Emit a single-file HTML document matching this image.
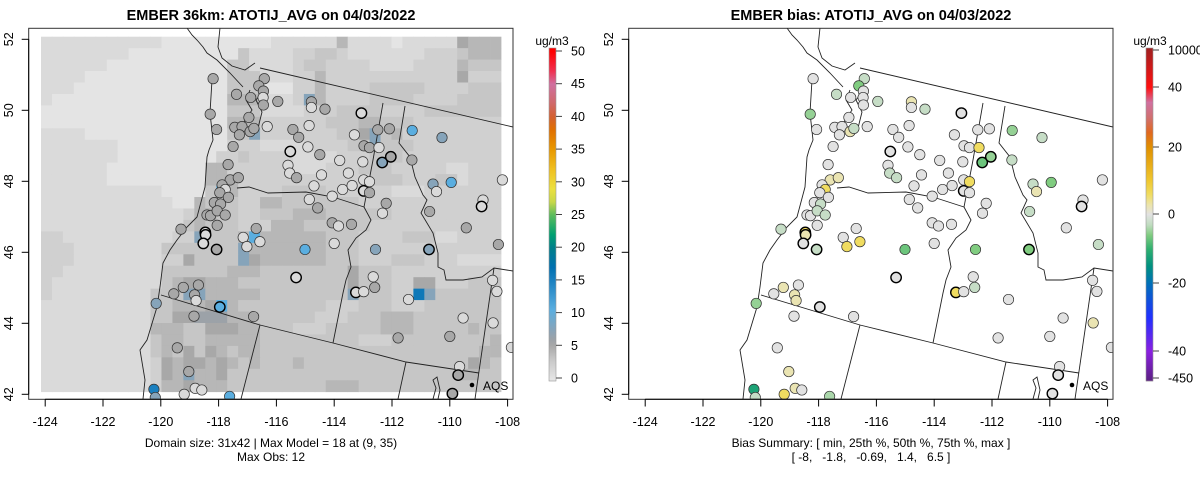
<!DOCTYPE html>
<html><head><meta charset="utf-8">
<style>
html,body{margin:0;padding:0;background:#fff;}
svg{display:block;font-family:"Liberation Sans",sans-serif;}
text{white-space:pre;}
</style></head>
<body>
<svg id="chart" width="1200" height="479" viewBox="0 0 1200 479" xmlns="http://www.w3.org/2000/svg">
<defs>
<clipPath id="clipL"><rect x="28.7" y="28.3" width="484.3" height="371"/></clipPath>
<clipPath id="clipR"><rect x="628.7" y="28.3" width="484.3" height="371"/></clipPath>
</defs>
<g id="left"></g>
<g id="right"></g>
</svg>
<script>
// ---- data ----
var xTicks = [-124,-122,-120,-118,-116,-114,-112,-110,-108];
var yTicks = [42,44,46,48,50,52];
var concTicks = [0,5,10,15,20,25,30,35,40,45,50];
var biasTickLabels = ["-450","-40","-20","0","20","40","10000"];
var biasTickValues = [-450,-40,-20,0,20,40,10000];
// model raster (31 rows x 42 cols), run-length "count:level"
var rasterRuns = [
"11:1 10:0 6:1 1:4 4:1 1:0 5:1 1:5 3:4",
"8:1 10:0 1:3 4:1 2:2 2:3 1:2 6:1 1:1 3:2 1:3 3:4",
"6:1 11:0 2:3 4:1 1:2 2:3 4:2 4:1 4:2 1:4 3:3",
"4:1 13:0 3:3 3:1 2:2 1:4 3:2 5:2 4:2 1:5 3:2",
"3:1 14:0 3:3 3:0 2:2 1:4 4:2 5:3 4:2 3:3",
"1:1 16:0 3:4 3:1 1:2 1:7 1:4 4:2 4:3 4:2 4:3",
"17:0 3:3 4:1 3:2 4:3 4:2 3:3 4:3",
"17:0 3:4 3:2 3:2 3:3 1:4 1:4 3:3 4:2 4:2",
"4:1 13:0 2:3 1:7 3:2 4:2 2:3 1:5 1:7 1:3 1:4 4:2 5:2",
"7:1 10:0 3:2 4:1 4:2 2:3 1:7 3:3 4:2 4:2",
"7:1 9:0 2:2 1:3 4:2 4:1 3:2 3:3 3:2 3:2 3:2",
"6:1 9:0 2:4 1:2 1:2 4:2 3:1 3:2 3:3 3:2 2:2 2:1 3:2",
"6:1 9:0 3:4 4:2 4:2 4:2 3:3 3:2 2:3 1:1 3:2",
"11:1 4:0 1:3 1:8 1:4 4:2 4:3 3:2 3:2 3:1 3:2 4:2",
"12:1 2:0 1:4 3:3 2:2 2:4 4:3 3:3 3:2 3:2 3:2 4:2",
"13:1 1:2 1:4 1:5 2:3 2:2 3:3 3:4 3:3 3:3 3:2 3:2 4:2",
"13:1 1:3 1:4 1:3 2:3 3:2 3:4 3:3 3:3 4:2 4:2 4:2",
"2:2 10:1 2:2 1:7 1:3 2:3 1:4 1:8 3:4 3:4 3:3 4:2 3:3 2:1 4:2",
"3:2 8:1 3:3 1:3 3:3 1:7 1:4 3:4 3:4 3:3 3:2 3:2 3:2 4:2",
"3:2 8:1 2:2 1:5 4:3 1:7 1:5 3:4 3:4 3:3 3:2 3:3 3:2 4:1",
"2:2 9:1 3:3 3:3 1:4 2:4 3:3 3:3 2:3 1:5 3:3 3:2 3:2 4:2",
"1:2 10:1 1:3 1:4 2:5 3:4 2:3 3:3 3:3 2:3 1:5 3:3 2:2 1:5 1:5 3:2 3:3",
"1:2 9:1 3:3 2:7 3:4 2:4 3:3 3:3 2:3 1:7 3:3 2:2 1:9 1:7 3:3 3:3",
"10:1 2:3 1:4 1:4 1:4 1:5 1:8 1:4 2:3 3:3 3:3 3:2 3:3 3:2 3:3 4:3",
"10:1 2:3 2:5 1:6 2:6 2:4 3:3 3:3 3:2 3:3 3:4 3:3 3:3 2:3",
"10:1 3:4 2:3 3:5 2:4 3:3 3:2 3:3 2:3 3:4 2:3 3:3 1:4 2:3",
"10:1 1:3 1:4 1:4 2:3 3:4 2:4 3:3 3:3 3:3 3:2 3:3 3:3 3:3 1:4",
"10:1 1:3 1:4 1:3 1:5 1:3 1:5 1:4 1:3 2:4 3:3 3:3 3:3 3:3 3:3 3:3 2:3 1:4 1:4",
"10:1 1:2 1:5 1:4 1:5 1:5 1:4 1:5 1:4 1:3 1:4 3:3 1:4 3:3 3:3 3:3 3:3 3:3 1:5 1:4 1:3",
"10:1 1:2 1:5 1:4 1:7 1:4 1:4 1:5 1:3 1:3 1:3 3:3 3:3 3:3 3:3 3:3 3:3 2:4 2:3",
"10:1 1:2 2:4 1:5 3:4 1:3 5:3 3:3 3:4 3:3 3:3 3:3 4:3"
];
var rasterLevelValue = [0,1,2,3,4,5,6,7.5,10.5,16];
// monitor sites
var stationLon = [-118.19,-116.42,-116.61,-116.45,-117.38,-116.89,-116.46,-116.45,-115.95,-114.79,-114.79,-114.32,-113.06,-118.29,-116.95,-117.44,-117.19,-116.32,-116.91,-116.78,-117.28,-118.07,-115.43,-115.23,-114.87,-113.30,-112.49,-112.09,-111.30,-110.27,-117.50,-115.52,-114.91,-114.50,-113.81,-112.97,-112.78,-112.45,-112.34,-112.04,-111.31,-117.67,-115.60,-115.54,-115.30,-114.44,-113.51,-113.01,-117.60,-117.32,-117.88,-117.77,-117.96,-117.66,-114.70,-113.71,-113.38,-112.98,-112.98,-112.78,-112.78,-110.58,-110.46,-109.95,-108.18,-114.86,-114.07,-112.20,-114.57,-112.33,-110.70,-108.85,-108.90,-118.15,-117.93,-118.40,-118.28,-118.05,-117.77,-118.05,-119.30,-118.46,-118.45,-118.53,-118.07,-116.70,-117.15,-117.02,-116.57,-114.07,-113.85,-113.40,-114.00,-115.01,-112.57,-110.72,-109.43,-108.32,-115.32,-112.65,-112.60,-113.25,-112.98,-108.52,-108.37,-111.43,-108.50,-109.54,-110.00,-111.79,-107.87,-109.66,-109.71,-109.91,-119.22,-118.70,-119.55,-118.83,-118.78,-120.16,-117.96,-118.85,-116.79,-119.43,-119.03,-118.81,-118.58,-120.24,-119.19,-120.19,-117.62];
var stationLat = [50.89,50.89,50.69,50.54,50.45,50.36,50.36,50.15,50.25,50.24,50.08,50.03,49.92,49.89,49.80,49.52,49.54,49.54,49.40,49.49,49.31,49.46,49.46,49.24,49.57,49.31,49.45,49.48,49.43,49.23,48.98,48.84,48.97,48.75,48.59,49.00,48.95,48.95,48.53,48.69,48.60,48.47,48.45,48.23,48.10,48.18,48.23,48.55,48.04,48.10,47.90,47.77,47.68,47.55,47.87,47.77,47.88,48.04,47.73,47.68,47.99,47.92,47.71,47.97,48.04,47.49,47.58,47.38,47.25,47.10,47.15,47.47,47.29,47.40,47.36,47.05,47.03,47.17,47.05,46.76,46.65,46.56,46.49,46.25,46.08,46.67,46.42,46.16,46.30,46.83,46.74,46.79,46.25,46.08,46.08,46.08,46.69,46.22,45.29,45.31,45.01,44.87,44.89,45.21,44.90,44.67,44.01,44.15,43.63,43.59,43.32,42.78,42.54,42.02,45.01,45.08,44.83,44.80,44.64,44.56,44.46,44.20,44.19,43.31,42.64,42.17,42.12,42.14,42.00,41.91,41.94];
var obsValues = [5,5,5,5,5,5,1,5,5,5,1,5,1,5,5,5,5,1,5,5,5,5,5,5,1,1,5,5,10.5,7.5,5,1,1,5,1,5,5,1,7.5,5,5,5,1,1,5,1,1,1,5,5,5,1,5,5,1,1,1,1,1,5,1,7.5,1,10.5,1,1,1,5,5,1,5,1,1,5,5,5,5,5,5,5,5,1,1,1,5,5,1,1,1,5,1,5,1,10.5,7.5,7.5,5,5,1,1,5,1,1,1,1,1,1,1,5,5,1,1,5,5,5,5,5,5,1,7.5,10.5,5,5,5,5,1,1,15,1,7.5,10.5];
var biasValues = [0,-2.5,-6,0,-2.5,0,0,0,-2.5,2.5,0,-2.5,0,-5,0,0,0,0,2.5,-2.5,0,0,0,0,0,0,0,0,-5,-2.5,0,0,0,0,0,0,0,6,-7,-5,-2.5,0,0,-2.5,-2.5,0,0,0,2.5,2.5,0,6,0,0,0,0,0,0,0,0,6,-2.5,2.5,-6,0,0,0,0,0,0,-2.5,0,0,0,-2.5,0,0,-2.5,-2.5,0,-2.5,6,2.5,0,-2.5,0,0,6,6,0,0,0,0,-7,-6,-6,0,-2.5,0,0,-2.5,6,0,0,0,0,2.5,0,0,0,0,0,0,0,2.5,0,0,2.5,2.5,-5,0,0,0,0,2.5,2.5,0,-12,6,-2.5,-4];
var boldFlags = [0,0,0,0,0,0,0,0,0,0,0,0,1,0,0,0,0,0,0,0,0,0,0,0,0,0,0,0,0,0,0,1,0,0,0,0,0,0,1,1,0,0,0,0,0,0,0,0,0,0,0,0,0,0,0,0,0,0,1,0,0,0,0,0,0,0,0,0,0,0,0,0,1,0,0,0,0,0,0,0,0,1,1,1,1,0,0,0,0,0,0,0,0,0,0,1,0,0,1,0,0,1,0,0,0,0,0,0,0,0,0,0,1,1,0,0,0,0,0,0,1,0,0,0,0,0,0,0,0,0,0];

// ---- helpers ----
var NS = "http://www.w3.org/2000/svg";
function mk(tag, attrs, parent){var e=document.createElementNS(NS,tag);for(var k in attrs)e.setAttribute(k,attrs[k]);parent.appendChild(e);return e;}
function xScale(lon,off){return off+45.2+(lon+124)*28.9;}
function yScale(lat){return 39.3+(52-lat)*35.5;}
function hex(c){return [parseInt(c.substr(1,2),16),parseInt(c.substr(3,2),16),parseInt(c.substr(5,2),16)];}
function mix(c1,c2,t){var ca=hex(c1),cb=hex(c2);return "rgb("+Math.round(ca[0]+(cb[0]-ca[0])*t)+","+Math.round(ca[1]+(cb[1]-ca[1])*t)+","+Math.round(ca[2]+(cb[2]-ca[2])*t)+")";}
function interp(stops,v){
  if(v<=stops[0][0])return stops[0][1];
  for(var i=1;i<stops.length;i++){if(v<=stops[i][0]){var a=stops[i-1],b=stops[i];var t=(v-a[0])/(b[0]-a[0]);return mix(a[1],b[1],t);}}
  return stops[stops.length-1][1];}
var concStops=[[0,"#e4e4e4"],[1,"#dadada"],[2,"#d0d0d0"],[3,"#c6c6c6"],[4,"#b7b7b7"],[5,"#a8a8a8"],[6,"#9ca2a8"],[7.5,"#86a4ba"],[10.5,"#5aaee0"],[15,"#1a80c0"],[17,"#0070b0"],[20,"#007f8a"],[22,"#00a070"],[25,"#5cbc5c"],[27,"#c8d848"],[29,"#ece040"],[32,"#f0c020"],[35,"#e89800"],[38,"#e07000"],[40,"#d46030"],[42,"#d06868"],[45,"#d070a0"],[47,"#f03050"],[50,"#ff0000"]];
var biasStops=[[-450,"#5a2080"],[-40,"#8a20e0"],[-30,"#2030ff"],[-20,"#0070b8"],[-15,"#009080"],[-10,"#30b070"],[-6,"#80cc80"],[-3,"#c0dcc0"],[0,"#e2e2e2"],[3,"#ece4a8"],[6,"#f0dc60"],[10,"#f0c830"],[20,"#e09000"],[25,"#e06820"],[30,"#d07070"],[35,"#d070a0"],[40,"#ff1010"]];

var borders = [
 [[260,68],[513,127]],
 [[237,188],[249,187],[268,193],[306,192],[333,197],[364,207]],
 [[383,103],[373,160],[364,207],[371,220],[366,230],[356,238],[348,250],[351,267],[346,280],[343,293],[333,343]],
 [[161,295],[260,325],[333,343],[406,362],[479,373]],
 [[260,325],[241,399]],
 [[406,362],[398,399]],
 [[405,106],[399,143],[410,157],[415,177],[423,195],[427,200],[421,213],[433,233],[438,253],[438,267],[444,270],[446,280],[463,280],[482,277],[494,268],[513,271]],
 [[494,268],[475,399]],
 [[212,80],[210,113],[213,140],[209,150],[207,157],[205,187],[197,217],[187,227],[177,240],[170,250],[163,263],[160,287],[157,307],[147,340],[140,350],[145,380],[143,399]],
 [[187,28],[192,35],[197,40],[203,47],[207,53],[217,60],[230,73],[243,87]],
 [[220,28],[218,47],[222,58],[232,66],[245,70],[255,63]],
 [[250,90],[246,100],[252,110],[244,122],[250,133],[258,128],[262,112],[256,100],[262,92]],
 [[433,399],[436,388],[433,380],[437,377],[440,390],[438,399]]
];

function panel(g, off, isBias){
  var clip = isBias ? "url(#clipR)" : "url(#clipL)";
  var inner = mk("g",{"clip-path":clip},g);
  if(!isBias){
    var rg = mk("g",{},inner);
    
    
    var cw=460/42, ch=355/31;
    for(var r=0;r<rasterRuns.length;r++){
      var runs=rasterRuns[r].split(" "), c=0;
      for(var k=0;k<runs.length;k++){
        var p=runs[k].split(":"), n=+p[0], lv=+p[1];
        for(var j=0;j<n;j++){
          var rc=mk("rect",{x:(off+41+c*cw).toFixed(2),y:(36.7+r*ch).toFixed(2),width:(cw+0.4).toFixed(2),height:(ch+0.4).toFixed(2),fill:interp(concStops,rasterLevelValue[lv])},rg);
          
          
          c++;
        }
      }
    }
  }
  var bg = mk("g",{fill:"none",stroke:"#222","stroke-width":"0.9"},inner);
  
  
  borders.forEach(function(line){
    mk("polyline",{points:line.map(function(p){return (p[0]+off)+","+p[1];}).join(" ")},bg);
  });
  var sg = mk("g",{},inner);
  
  
  for(var i=0;i<stationLon.length;i++){
    var col = isBias ? interp(biasStops,biasValues[i]) : interp(concStops,obsValues[i]);
    var ci=mk("circle",{cx:xScale(stationLon[i],off).toFixed(1),cy:yScale(stationLat[i]).toFixed(1),r:5.2,fill:col,stroke:boldFlags[i]?"#000":"#333","stroke-width":boldFlags[i]?1.4:0.7},sg);
    
    
  }
  var ad=mk("circle",{cx:off+472,cy:385,r:2.3,fill:"#000"},g);
  
  
  var at=mk("text",{x:off+483,y:390,"font-size":"12",fill:"#000"},g);at.textContent="AQS";
  
  
  var fr=mk("rect",{x:off+28.7,y:28.3,width:484.3,height:371,fill:"none",stroke:"#333","stroke-width":"1"},g);
  
  
  var xa=mk("g",{},g);
  
  
  mk("line",{x1:xScale(xTicks[0],off),x2:xScale(xTicks[xTicks.length-1],off),y1:399.3,y2:399.3,stroke:"#000"},xa);
  xTicks.forEach(function(t){
    var x=xScale(t,off);
    mk("line",{x1:x,x2:x,y1:399.3,y2:406.5,stroke:"#000"},xa);
    var tx=mk("text",{x:x,y:426,"text-anchor":"middle","font-size":"12.5",fill:"#000"},xa);tx.textContent=String(t);
    
    
  });
  var ya=mk("g",{},g);
  
  
  mk("line",{x1:off+28.7,x2:off+28.7,y1:yScale(42),y2:yScale(52),stroke:"#000"},ya);
  yTicks.forEach(function(t){
    var y=yScale(t);
    mk("line",{x1:off+21.7,x2:off+28.7,y1:y,y2:y,stroke:"#000"},ya);
    var ty=mk("text",{x:off+13,y:y,"text-anchor":"middle","font-size":"12.5",fill:"#000",transform:"rotate(-90 "+(off+13)+" "+y+")"},ya);ty.textContent=String(t);
    
    
  });
}

function colorbarConc(g){
  var bx=549,bw=7,top=48,bot=381;
  var yv=function(v){return 378-(v/50)*327;};
  for(var y=top;y<bot;y+=1){
    var v=(378-y)/327*50; if(v<0)v=0;
    mk("rect",{x:bx,y:y,width:bw,height:1.2,fill:interp(concStops,v)},g);
  }
  mk("rect",{x:bx,y:top,width:bw,height:bot-top,fill:"none",stroke:"#999","stroke-width":"0.6"},g);
  concTicks.forEach(function(t){
    var y=yv(t);
    mk("line",{x1:bx+bw,x2:bx+bw+6,y1:y,y2:y,stroke:"#444"},g);
    var tt=mk("text",{x:571,y:y+4.5,"font-size":"12.5",fill:"#000"},g);tt.textContent=String(t);
    
    
  });
  var u=mk("text",{x:552,y:45,"text-anchor":"middle","font-size":"12",fill:"#000"},g);u.textContent="ug/m3";
  
  
}
function colorbarBias(g){
  var bx=1146,bw=7,top=48,bot=381;
  var ys=[378,351,283,214,147,87,50];
  for(var y=top;y<bot;y+=1){
    var col;
    if(y<=87){col=mix("#a02020","#ff1010",(y-top)/(87-top));}
    else if(y>=351){col=mix("#8a20e0","#5a2080",(y-351)/(bot-351));}
    else{
      var v=0;
      for(var i=1;i<ys.length;i++){if(y>=ys[i]){var t=(ys[i-1]-y)/(ys[i-1]-ys[i]);v=biasTickValues[i-1]+(biasTickValues[i]-biasTickValues[i-1])*t;break;}}
      col=interp(biasStops,v);
    }
    mk("rect",{x:bx,y:y,width:bw,height:1.2,fill:col},g);
  }
  mk("rect",{x:bx,y:top,width:bw,height:bot-top,fill:"none",stroke:"#999","stroke-width":"0.6"},g);
  biasTickLabels.forEach(function(lbl,i){
    var y=ys[i];
    mk("line",{x1:bx+bw,x2:bx+bw+6,y1:y,y2:y,stroke:"#444"},g);
    var tt=mk("text",{x:1168,y:y+4.5,"font-size":"12.5",fill:"#000"},g);tt.textContent=lbl;
    
    
  });
  var u=mk("text",{x:1150,y:45,"text-anchor":"middle","font-size":"12",fill:"#000"},g);u.textContent="ug/m3";
  
  
}
function txt(g,x,y,s,size,bold,name){
  var t=mk("text",{x:x,y:y,"text-anchor":"middle","font-size":size,"font-weight":bold?"bold":"normal",fill:"#000"},g);
  t.textContent=s;
  
  
}

var L=document.getElementById("left"), R=document.getElementById("right");
panel(L,0,false);
panel(R,600,true);
var cbl=mk("g",{},L);


colorbarConc(cbl);
var cbr=mk("g",{},R);


colorbarBias(cbr);
txt(L,271,20,"EMBER 36km: ATOTIJ_AVG on 04/03/2022",14.5,true,"left-title");
txt(R,871,20,"EMBER bias: ATOTIJ_AVG on 04/03/2022",14.5,true,"right-title");
txt(L,271,447,"Domain size: 31x42 | Max Model = 18 at (9, 35)",12,false,"domain-summary");
txt(L,271,461,"Max Obs: 12",12,false,"max-obs");
txt(R,871,447,"Bias Summary: [ min, 25th %, 50th %, 75th %, max ]",12,false,"bias-summary-header");
txt(R,871,461,"[ -8,   -1.8,   -0.69,   1.4,   6.5 ]",12,false,"bias-summary-values");
</script>
</body></html>
